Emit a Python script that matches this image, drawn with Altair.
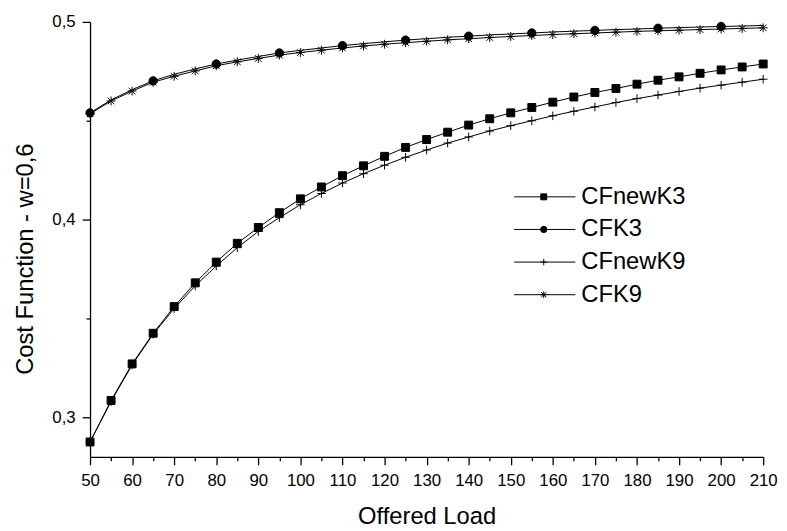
import altair as alt
import pandas as pd

# ---------------- data ----------------
load = list(range(50, 215, 5))
series_names = ["CFnewK3", "CFK3", "CFnewK9", "CFK9"]

cf_new_k3 = [0.2875, 0.3085, 0.3270, 0.3425, 0.3560, 0.3680, 0.3785, 0.3880,
             0.3960, 0.4035, 0.4105, 0.4165, 0.4222, 0.4272, 0.4320, 0.4365,
             0.4405, 0.4442, 0.4478, 0.4510, 0.4540, 0.4567, 0.4594, 0.4620,
             0.4643, 0.4663, 0.4685, 0.4705, 0.4722, 0.4740, 0.4757, 0.4772,
             0.4787]
cf_k3 = [0.4540, 0.4605, 0.4657, 0.4702, 0.4735, 0.4762, 0.4787, 0.4807,
         0.4825, 0.4843, 0.4856, 0.4868, 0.4880, 0.4890, 0.4899, 0.4908,
         0.4915, 0.4922, 0.4928, 0.4934, 0.4939, 0.4944, 0.4949, 0.4953,
         0.4957, 0.4961, 0.4964, 0.4968, 0.4971, 0.4974, 0.4977, 0.4979,
         0.4982]
cf_new_k9 = [0.2875, 0.3080, 0.3265, 0.3420, 0.3550, 0.3665, 0.3765, 0.3858,
             0.3940, 0.4010, 0.4075, 0.4132, 0.4185, 0.4232, 0.4275, 0.4315,
             0.4352, 0.4387, 0.4418, 0.4448, 0.4475, 0.4500, 0.4525, 0.4548,
             0.4570, 0.4592, 0.4612, 0.4630, 0.4648, 0.4665, 0.4680, 0.4695,
             0.4710]
cf_k9 = [0.4535, 0.4600, 0.4650, 0.4695, 0.4725, 0.4752, 0.4778, 0.4798,
         0.4815, 0.4832, 0.4845, 0.4857, 0.4868, 0.4878, 0.4887, 0.4895,
         0.4902, 0.4909, 0.4915, 0.4921, 0.4926, 0.4931, 0.4936, 0.4940,
         0.4944, 0.4948, 0.4952, 0.4955, 0.4958, 0.4961, 0.4964, 0.4967,
         0.4970]

y_ticks = [0.3, 0.35, 0.4, 0.45, 0.5]

rows = []
for name, vals in zip(series_names, [cf_new_k3, cf_k3, cf_new_k9, cf_k9]):
    for x, v in zip(load, vals):
        rows.append({"load": x, "cost": v, "series": name})
df = pd.DataFrame(rows)

legend_df = pd.DataFrame({"series": series_names, "row": list(range(len(series_names)))})

# ---------------- styling ----------------
FONT = "Liberation Sans"
PLUS = "M-1,0H1M0,-1V1"
STAR = "M-1,0H1M0,-1V1M-0.75,-0.75L0.75,0.75M-0.75,0.75L0.75,-0.75"
shape_scale = alt.Scale(domain=series_names, range=["square", "circle", PLUS, STAR])
fill_scale = alt.Scale(domain=series_names, range=["black", "black", "transparent", "transparent"])

x_axis = alt.Axis(
    values=load,
    format="d",
    labelExpr="datum.value % 10 == 0 ? datum.label : ''",
    tickSize={"condition": {"test": "datum.value % 10 == 0", "value": 8}, "value": 4},
    labelFont=FONT, labelFontSize=17, labelColor="black", labelPadding=8,
    labelOverlap=False, labelFlush=False,
    domainColor="black", tickColor="black", domainWidth=1.3, tickWidth=1.3,
    grid=False,
    title="Offered Load", titleFont=FONT, titleFontSize=24, titleFontWeight="normal",
    titleColor="black", titleX=340.5, titleY=67, titleAlign="center",
    titleBaseline="alphabetic",
)
y_axis = alt.Axis(
    values=y_ticks,
    labelExpr="round(datum.value*100) % 10 == 0 ? replace(format(datum.value, '.1f'), '.', ',') : ''",
    tickSize={"condition": {"test": "round(datum.value*100) % 10 == 0", "value": 8}, "value": 4},
    labelFont=FONT, labelFontSize=17, labelColor="black", labelPadding=7,
    labelOverlap=False, labelFlush=False,
    domainColor="black", tickColor="black", domainWidth=1.3, tickWidth=1.3,
    grid=False,
    title="Cost Function - w=0,6", titleFont=FONT, titleFontSize=24,
    titleFontWeight="normal", titleColor="black", titleX=-58, titleY=239.5,
    titleAlign="center", titleBaseline="alphabetic", titleAngle=270,
)

x_enc = alt.X("load:Q", scale=alt.Scale(domain=[50, 210], nice=False, zero=False), axis=x_axis)
y_enc = alt.Y("cost:Q", scale=alt.Scale(domain=[0.28, 0.5], nice=False, zero=False), axis=y_axis)

base = alt.Chart(df)

lines = base.mark_line(strokeWidth=1, color="black").encode(
    x=x_enc, y=y_enc,
    detail="series:N",
)

points = base.mark_point(strokeWidth=1, stroke="black", opacity=1).encode(
    x=x_enc, y=y_enc,
    shape=alt.Shape("series:N", scale=shape_scale, legend=None),
    fill=alt.Fill("series:N", scale=fill_scale, legend=None),
    size=alt.Size("series:N", scale=alt.Scale(domain=series_names, range=[64, 81, 100, 110]), legend=None),
).transform_filter(
    "datum.series != 'CFK3' || (datum.load - 50) % 15 == 0"
)

# ---------------- manual legend ----------------
leg = alt.Chart(legend_df).transform_calculate(ly="177 + 33 * datum.row")

leg_lines = leg.mark_rule(strokeWidth=1, color="black").encode(
    x=alt.value(429), x2=alt.value(491),
    y=alt.Y("ly:Q", scale=None),
)
leg_points = leg.mark_point(strokeWidth=1, stroke="black", opacity=1).encode(
    x=alt.value(459),
    y=alt.Y("ly:Q", scale=None),
    shape=alt.Shape("series:N", scale=shape_scale, legend=None),
    fill=alt.Fill("series:N", scale=fill_scale, legend=None),
    size=alt.Size("series:N", scale=alt.Scale(domain=series_names, range=[36, 49, 49, 64]), legend=None),
)
leg_text = leg.mark_text(align="left", baseline="middle", font=FONT, fontSize=24, color="black").encode(
    x=alt.value(497),
    y=alt.Y("ly:Q", scale=None),
    text="series:N",
)

chart = alt.layer(lines, points, leg_lines, leg_points, leg_text).resolve_scale(
    shape="independent", fill="independent", size="independent"
).properties(
    width=681, height=440,
    autosize=alt.AutoSizeParams(type="none"),
    padding={"left": 83, "top": 11, "right": 16, "bottom": 72},
    background="white",
).configure_view(stroke="transparent")

chart.save("out.html", embed_options={"renderer": "svg", "actions": False})
